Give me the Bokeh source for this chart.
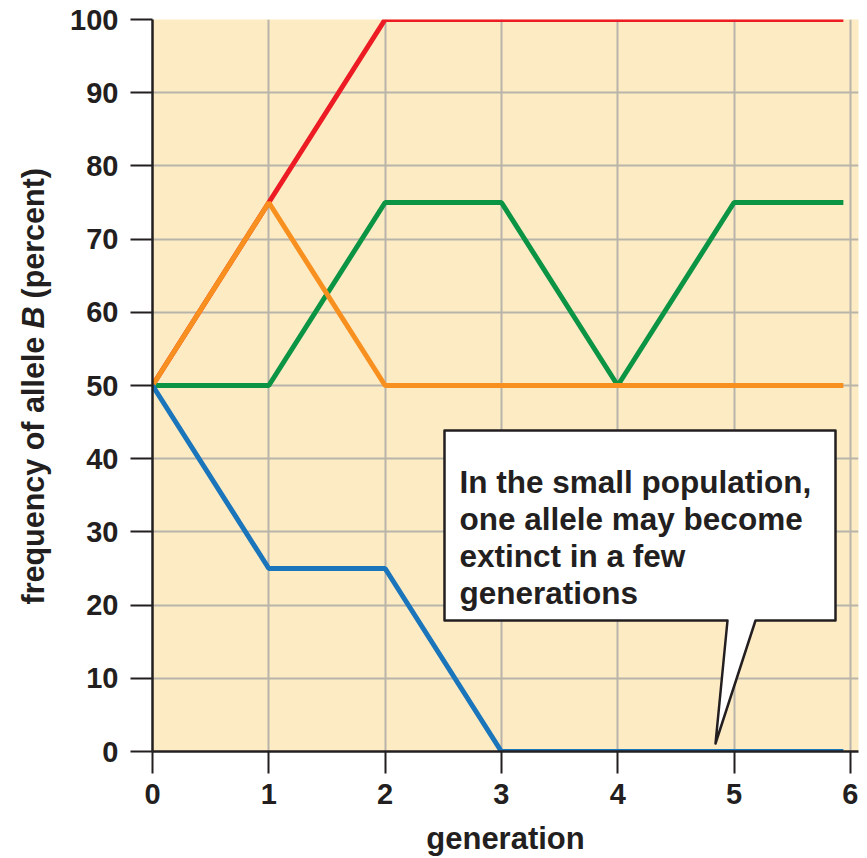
import math
from bokeh.plotting import figure
from bokeh.models import Range1d, FixedTicker
from bokeh.layouts import row
from bokeh.embed import file_html
from bokeh.resources import INLINE
from bokeh.core.properties import value

# ---------------- data ----------------
generation = [0, 1, 2, 3, 4, 5, 5.94]
freq_red = [50, 75, 100, 100, 100, 100, 100]
freq_green = [50, 50, 75, 75, 50, 75, 75]
freq_orange = [50, 75, 50, 50, 50, 50, 50]
freq_blue = [50, 25, 25, 0, 0, 0, 0]
x_ticks = [0, 1, 2, 3, 4, 5, 6]
y_ticks = [0, 10, 20, 30, 40, 50, 60, 70, 80, 90, 100]
x_title = "generation"
y_title_parts = ["frequency of allele", "B", "(percent)"]
callout_lines = ["In the small population,", "one allele may become",
                 "extinct in a few", "generations"]

# ---------------- layout ----------------
W, H = 867, 858
TW = 60                      # width of the strip holding the y title
FL, FT, FR, FB = 152, 19, 9, 107
FW, FH = W - FL - FR, H - FT - FB
X_MAX, Y_MAX = 6.07, 100.0
FONT = "Liberation Sans"
INK = "#231f20"


def px_x(sx):
    return (sx - FL) / FW * X_MAX


def px_y(sy):
    return (FT + FH - sy) / FH * Y_MAX


p = figure(width=W - TW, height=H, x_range=Range1d(0, X_MAX), y_range=Range1d(0, Y_MAX),
           output_backend="svg", toolbar_location=None,
           min_border_left=FL - TW, min_border_top=FT, min_border_right=FR,
           min_border_bottom=FB)
p.background_fill_color = "#fdebc4"
p.border_fill_color = "white"
p.outline_line_color = None

for ax, ticks in ((p.xaxis, x_ticks), (p.yaxis, y_ticks)):
    ax.ticker = FixedTicker(ticks=ticks)
    ax.axis_line_color = INK
    ax.axis_line_width = 2.5
    ax.major_tick_line_color = INK
    ax.major_tick_line_width = 2
    ax.major_tick_in = 0
    ax.major_tick_out = 22
    ax.minor_tick_line_color = None
    ax.major_label_text_font = FONT
    ax.major_label_text_font_style = "bold"
    ax.major_label_text_font_size = "29px"
    ax.major_label_text_color = INK
p.xaxis.major_label_standoff = 10
p.yaxis.major_label_standoff = 12

p.xaxis.axis_label = x_title
p.xaxis.axis_label_text_font = FONT
p.xaxis.axis_label_text_font_style = "bold"
p.xaxis.axis_label_text_font_size = "31px"
p.xaxis.axis_label_text_color = INK
p.xaxis.axis_label_standoff = 14

for g, ticks in ((p.xgrid, x_ticks), (p.ygrid, y_ticks)):
    g.ticker = FixedTicker(ticks=ticks)
    g.grid_line_color = "#b8b4aa"
    g.grid_line_width = 2

LW = 5
p.line(generation, freq_red, line_color="#ed1c24", line_width=LW)
p.line(generation, freq_green, line_color="#0c9445", line_width=LW)
p.line(generation, freq_orange, line_color="#f7901e", line_width=LW)
p.line(generation, freq_blue, line_color="#1b75bb", line_width=LW)

# ---------------- callout ----------------
bx0, bx1, by0, by1 = px_x(444), px_x(835), px_y(430), px_y(620)
pl, pr, tipx, tipy = px_x(727), px_x(755), px_x(715), px_y(743)
p.patch([bx0, bx1, bx1, pr, tipx, pl, bx0],
        [by0, by0, by1, by1, tipy, by1, by1],
        fill_color="white", line_color=INK, line_width=2.5, line_join="round")
baselines = [481, 518, 555, 592]
p.text([px_x(459)] * len(callout_lines), [px_y(b) for b in baselines], text=callout_lines,
       text_font=value(FONT), text_font_style="bold", text_font_size="31.5px",
       text_color=INK, text_baseline="alphabetic", text_align="left")

# ---------------- y title strip (frame aligned with the main frame) ----------------
t = figure(width=TW, height=H, x_range=Range1d(0, TW), y_range=Range1d(0, Y_MAX),
           output_backend="svg", toolbar_location=None,
           x_axis_type=None, y_axis_type=None,
           min_border_left=0, min_border_right=0, min_border_top=FT, min_border_bottom=FB)
t.outline_line_color = None
t.background_fill_color = "white"
t.border_fill_color = "white"
t.xgrid.visible = False
t.ygrid.visible = False
anchors = [604, 328, 298]        # screen y where each part starts (reading upward)
styles = ["bold", "bold italic", "bold"]
for txt, a, s in zip(y_title_parts, anchors, styles):
    t.text([32], [px_y(a)], text=[txt], angle=math.pi / 2,
           text_font=value(FONT), text_font_style=s, text_font_size="30.5px",
           text_color=INK, text_align="left", text_baseline="alphabetic")

layout = row(t, p, spacing=0)
open("out.html", "w").write(file_html(layout, INLINE))
